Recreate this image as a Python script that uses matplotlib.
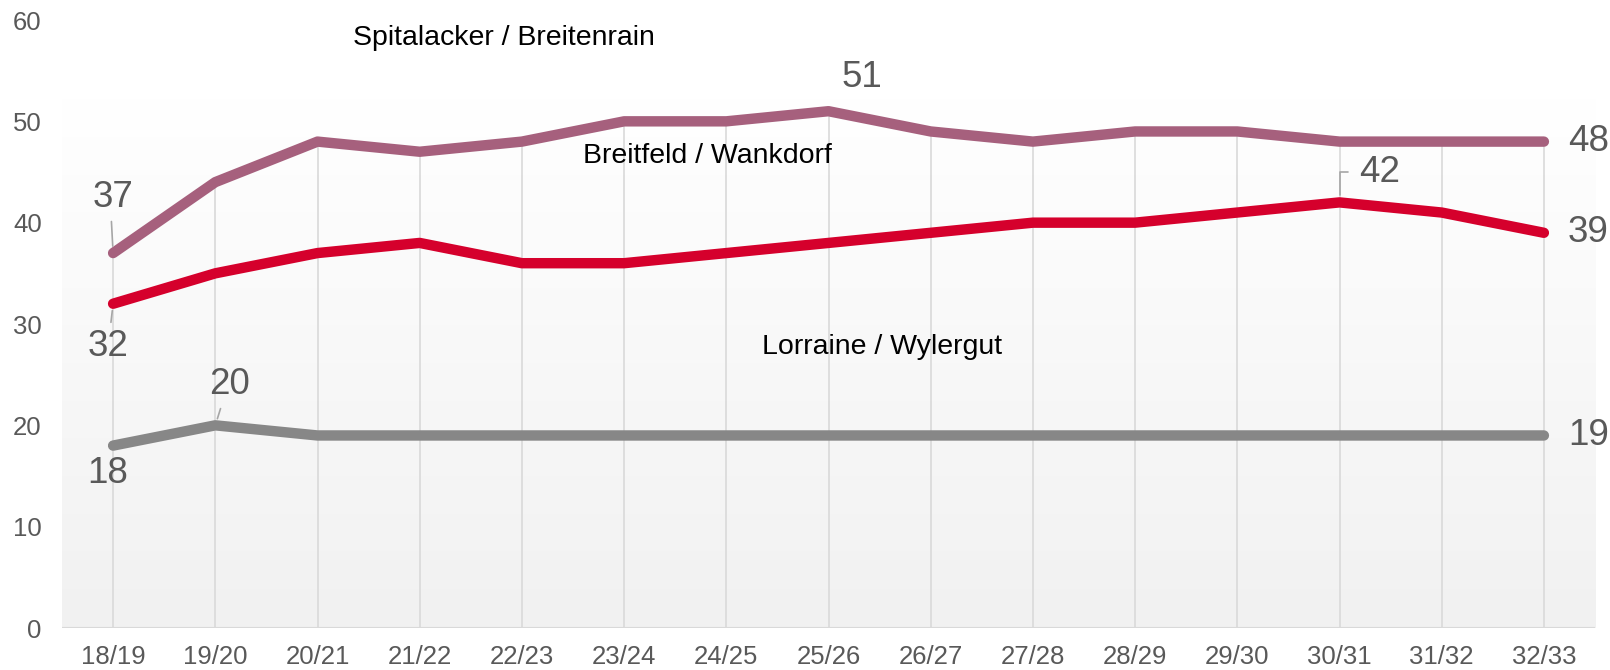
import numpy as np
import matplotlib
matplotlib.use("Agg")
import matplotlib.pyplot as plt

plt.rcParams['font.family'] = ['Liberation Sans', 'DejaVu Sans']

# Data
years = ["18/19", "19/20", "20/21", "21/22", "22/23", "23/24", "24/25", "25/26",
         "26/27", "27/28", "28/29", "29/30", "30/31", "31/32", "32/33"]
spitalacker = [37, 44, 48, 47, 48, 50, 50, 51, 49, 48, 49, 49, 48, 48, 48]
breitfeld = [32, 35, 37, 38, 36, 36, 37, 38, 39, 40, 40, 41, 42, 41, 39]
lorraine = [18, 20, 19, 19, 19, 19, 19, 19, 19, 19, 19, 19, 19, 19, 19]

c_purple = "#A6607D"
c_red = "#D5002C"
c_gray = "#878787"
c_label = "#595959"

fig = plt.figure(figsize=(16.1, 6.7), dpi=100)
ax = fig.add_axes([62 / 1610, 42 / 670, (1595 - 62) / 1610, 608 / 670])
x = np.arange(len(years))

ax.set_xlim(-0.5, len(years) - 0.5)
ax.set_ylim(0, 60)

# gradient plot area (white at top -> light gray at bottom)
grad = np.linspace(1.0, 0.0, 256).reshape(-1, 1)
top_c = np.array([1.0, 1.0, 1.0])
bot_c = np.array([0xF1, 0xF1, 0xF1]) / 255
img = grad[..., None] * top_c + (1 - grad[..., None]) * bot_c
ax.imshow(img, extent=(-0.5, len(years) - 0.5, 0, 52.3), aspect='auto', zorder=0)

# drop lines
highs = np.max([spitalacker, breitfeld, lorraine], axis=0)
ax.vlines(x, 0, highs, color="#D9D9D9", lw=1.2, zorder=1)
ax.axhline(0, color="#D9D9D9", lw=1.5, zorder=1)

lw = 7.5
ax.plot(x, spitalacker, color=c_purple, lw=lw, solid_capstyle='round', solid_joinstyle='round', zorder=3)
ax.plot(x, breitfeld, color=c_red, lw=lw, solid_capstyle='round', solid_joinstyle='round', zorder=3)
ax.plot(x, lorraine, color=c_gray, lw=lw, solid_capstyle='round', solid_joinstyle='round', zorder=3)

# series names
name_fs = 20.5
ax.text(3.82, 58.2, "Spitalacker / Breitenrain", fontsize=name_fs, color="black", ha='center', va='center')
ax.text(5.82, 46.6, "Breitfeld / Wankdorf", fontsize=name_fs, color="black", ha='center', va='center')
ax.text(7.52, 27.7, "Lorraine / Wylergut", fontsize=name_fs, color="black", ha='center', va='center')

# data labels
lab_fs = 26.5
lead_c = "#A6A6A6"


def leader(relpos, **kw):
    d = dict(arrowstyle='-', color=lead_c, lw=1.2, shrinkA=3, shrinkB=5, relpos=relpos)
    d.update(kw)
    return d


def label(i, vals, dx, dy, arrow=None, ha='center'):
    ax.annotate(str(vals[i]), xy=(x[i], vals[i]), xytext=(dx * 0.72, dy * 0.72),
                textcoords='offset points', ha=ha, va='center', fontsize=lab_fs,
                color=c_label, arrowprops=arrow, zorder=4)


label(0, spitalacker, 0, 56, leader((0.45, 0.0)))
label(7, spitalacker, 33, 34)
label(14, spitalacker, 24, 0, ha='left')
label(0, breitfeld, -5, -43, leader((0.55, 1.0)))
label(12, breitfeld, 40, 30, leader((0.0, 0.5), shrinkA=6,
                                    connectionstyle='angle,angleA=0,angleB=90,rad=0'))
label(14, breitfeld, 24, 0, ha='left')
label(1, lorraine, 14, 41, leader((0.35, 0.05)))
label(0, lorraine, -5, -28)
label(14, lorraine, 24, 0, ha='left')

# axes styling
for s in ax.spines.values():
    s.set_visible(False)
ax.set_xticks(x)
ax.set_xticklabels(years)
ax.set_yticks(range(0, 61, 10))
ax.tick_params(axis='both', length=0, labelsize=18.5, labelcolor=c_label)
ax.tick_params(axis='x', pad=12)
ax.tick_params(axis='y', pad=14.5)

fig.savefig("out.png", dpi=100, facecolor="white")
